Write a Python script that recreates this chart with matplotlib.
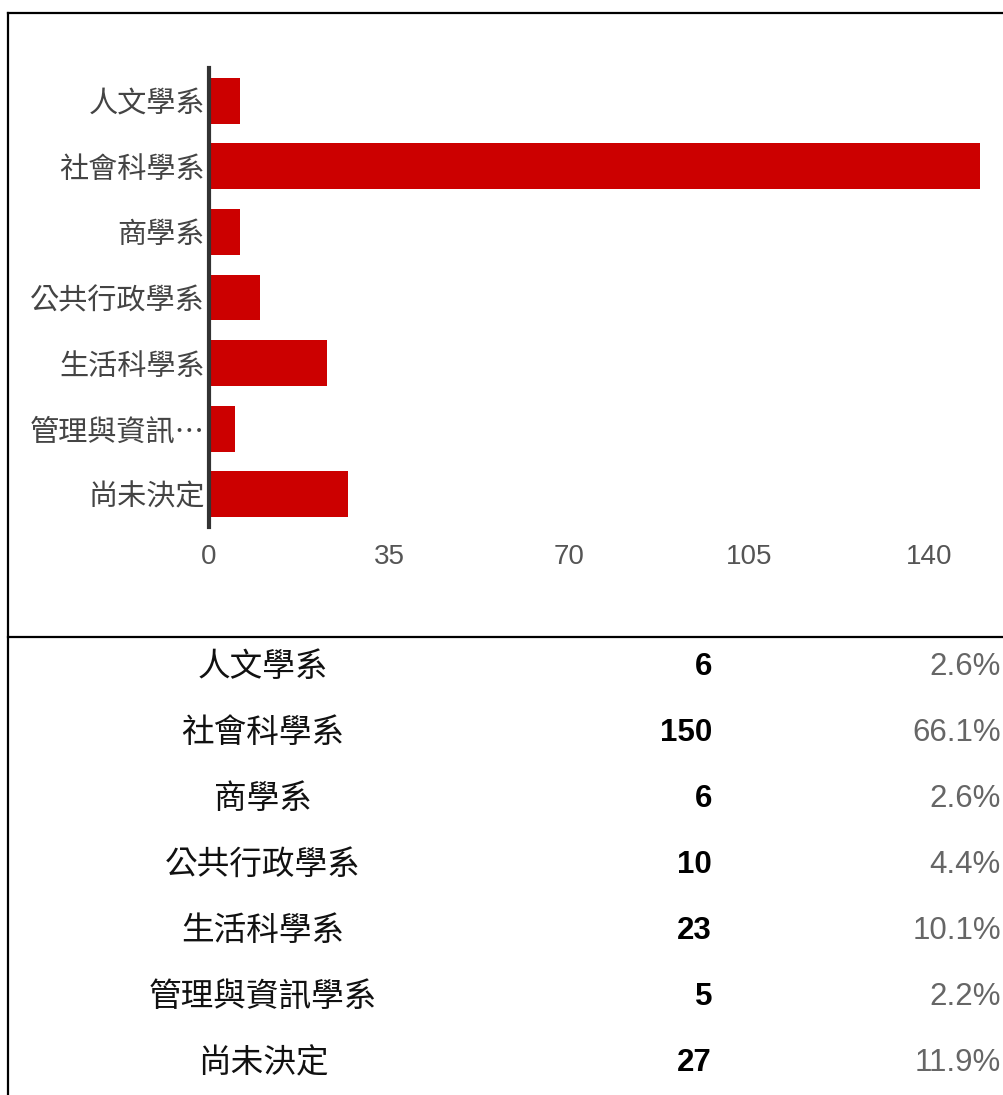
import matplotlib
matplotlib.use("Agg")
import matplotlib.pyplot as plt
from matplotlib.lines import Line2D

plt.rcParams['font.family'] = ['Noto Sans CJK TC', 'DejaVu Sans']

# Data
departments = ["人文學系", "社會科學系", "商學系", "公共行政學系",
               "生活科學系", "管理與資訊學系", "尚未決定"]
counts = [6, 150, 6, 10, 23, 5, 27]
percents = ["2.6%", "66.1%", "2.6%", "4.4%", "10.1%", "2.2%", "11.9%"]
x_ticks = [0, 35, 70, 105, 140]

W, H = 1004, 1095
fig = plt.figure(figsize=(W / 100, H / 100), dpi=100)


def fx(px):
    return px / W


def fy(py):
    return 1 - py / H


def short(name, n=5):
    return name if len(name) <= n + 1 else name[:n] + "…"


# Bar chart
ax_left, ax_right, ax_top, ax_bot = 209, 1001, 68, 527
ax = fig.add_axes([fx(ax_left), fy(ax_bot), fx(ax_right - ax_left),
                   (ax_bot - ax_top) / H])
ypos = list(range(len(departments)))
ax.barh(ypos, counts, height=0.7, color="#cc0000", zorder=2)
ax.set_ylim(len(departments) - 0.5, -0.5)
ax.set_xlim(0, (ax_right - ax_left) / 5.143)
ax.set_yticks(ypos)
ax.set_yticklabels([short(d) for d in departments], fontsize=21,
                   color="#444444")
ax.set_xticks(x_ticks)
ax.set_xticklabels([str(t) for t in x_ticks], fontsize=20,
                   color="#555555", family="Liberation Sans")
ax.tick_params(axis="both", length=0)
ax.tick_params(axis="y", pad=3)
ax.tick_params(axis="x", pad=12)
for side in ["top", "right", "bottom"]:
    ax.spines[side].set_visible(False)
ax.spines["left"].set_color("#333333")
ax.spines["left"].set_linewidth(3)
ax.spines["left"].set_zorder(3)

# Frame lines
frame = dict(color="black", linewidth=1.6, transform=fig.transFigure)
fig.add_artist(Line2D([fx(8), fx(W)], [fy(13), fy(13)], **frame))
fig.add_artist(Line2D([fx(8), fx(8)], [fy(13), fy(H)], **frame))
fig.add_artist(Line2D([fx(8), fx(W)], [fy(637), fy(637)], **frame))

# Summary table
row0, row_step = 667, 66
for i, (d, c, p) in enumerate(zip(departments, counts, percents)):
    y = fy(row0 + i * row_step)
    fig.text(fx(263), y, d, ha="center", va="center", fontsize=23.5,
             color="#111111")
    fig.text(fx(712), y, str(c), ha="right", va="center", fontsize=22.5,
             fontweight="bold", color="black", family="Liberation Sans")
    fig.text(fx(1001), y, p, ha="right", va="center", fontsize=22.5,
             color="#666666", family="Liberation Sans")

fig.savefig("out.png", dpi=100)
